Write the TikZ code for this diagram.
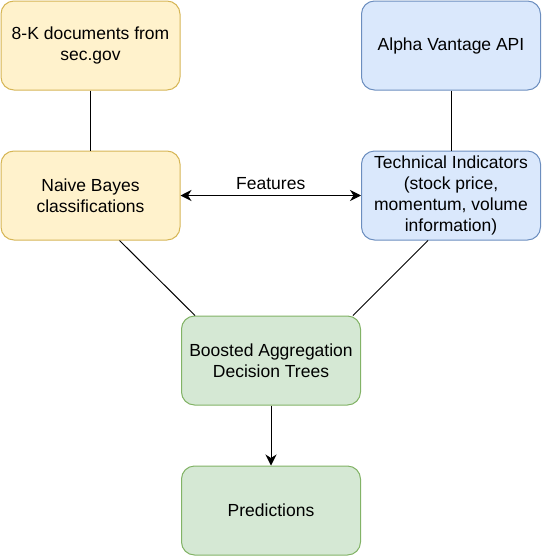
\documentclass[tikz,border=0pt]{standalone}
\usepackage{fontspec}
\setmainfont{Liberation Sans}
\usetikzlibrary{arrows.meta,calc}

\definecolor{secfill}{HTML}{FFF2CC}
\definecolor{secdraw}{HTML}{D6B656}
\definecolor{apifill}{HTML}{DAE8FC}
\definecolor{apidraw}{HTML}{6C8EBF}
\definecolor{modfill}{HTML}{D5E8D4}
\definecolor{moddraw}{HTML}{82B366}

\begin{document}
\begin{tikzpicture}[x=1pt,y=-1pt,
    every node/.append style={font=\fontsize{17.5}{21}\selectfont, align=center},
    box/.style={rectangle, rounded corners=13pt, line width=1pt,
                minimum width=179pt, minimum height=89pt, inner sep=1pt},
    secbox/.style={box, fill=secfill, draw=secdraw},
    apibox/.style={box, fill=apifill, draw=apidraw},
    modbox/.style={box, fill=modfill, draw=moddraw},
    link/.style={line width=1pt},
    tip/.style={Stealth[length=11pt,width=11pt,inset=3.5pt]},
    flow/.style={line width=1pt, -{Stealth[length=11pt,width=11pt,inset=3.5pt]}}]
    \useasboundingbox (0,0) rectangle (542,557);
    % sources
    \node[secbox] (sec) at (90.5,45.5)  {8-K documents from\\sec.gov};
    \node[apibox] (api) at (451,45.5)   {Alpha Vantage API};
    % features
    \node[secbox] (nb)  at (90.5,195.5) {Naive Bayes\\classifications};
    \node[apibox] (ti)  at (451,195.5)  {Technical Indicators\\(stock price,\\momentum, volume\\information)};
    % model
    \node[modbox] (bag)  at (271,360.5) {Boosted Aggregation\\Decision Trees};
    \node[modbox] (pred) at (271,510.5) {Predictions};

    \draw[link] (sec) -- (nb);
    \draw[link] (api) -- (ti);
    \draw[link, {Stealth[length=11pt,width=11pt,inset=3.5pt]}-{Stealth[length=11pt,width=11pt,inset=3.5pt]}]
        (nb) -- node[above=2pt] (feat) {Features} (ti);
    \draw[link] ([xshift=119pt]nb.south west) -- ([xshift=14pt]bag.north west);
    \draw[link] ([xshift=67pt]ti.south west) -- ([xshift=-8pt]bag.north east);
    \draw[flow] (bag) -- (pred);
\end{tikzpicture}
\end{document}
